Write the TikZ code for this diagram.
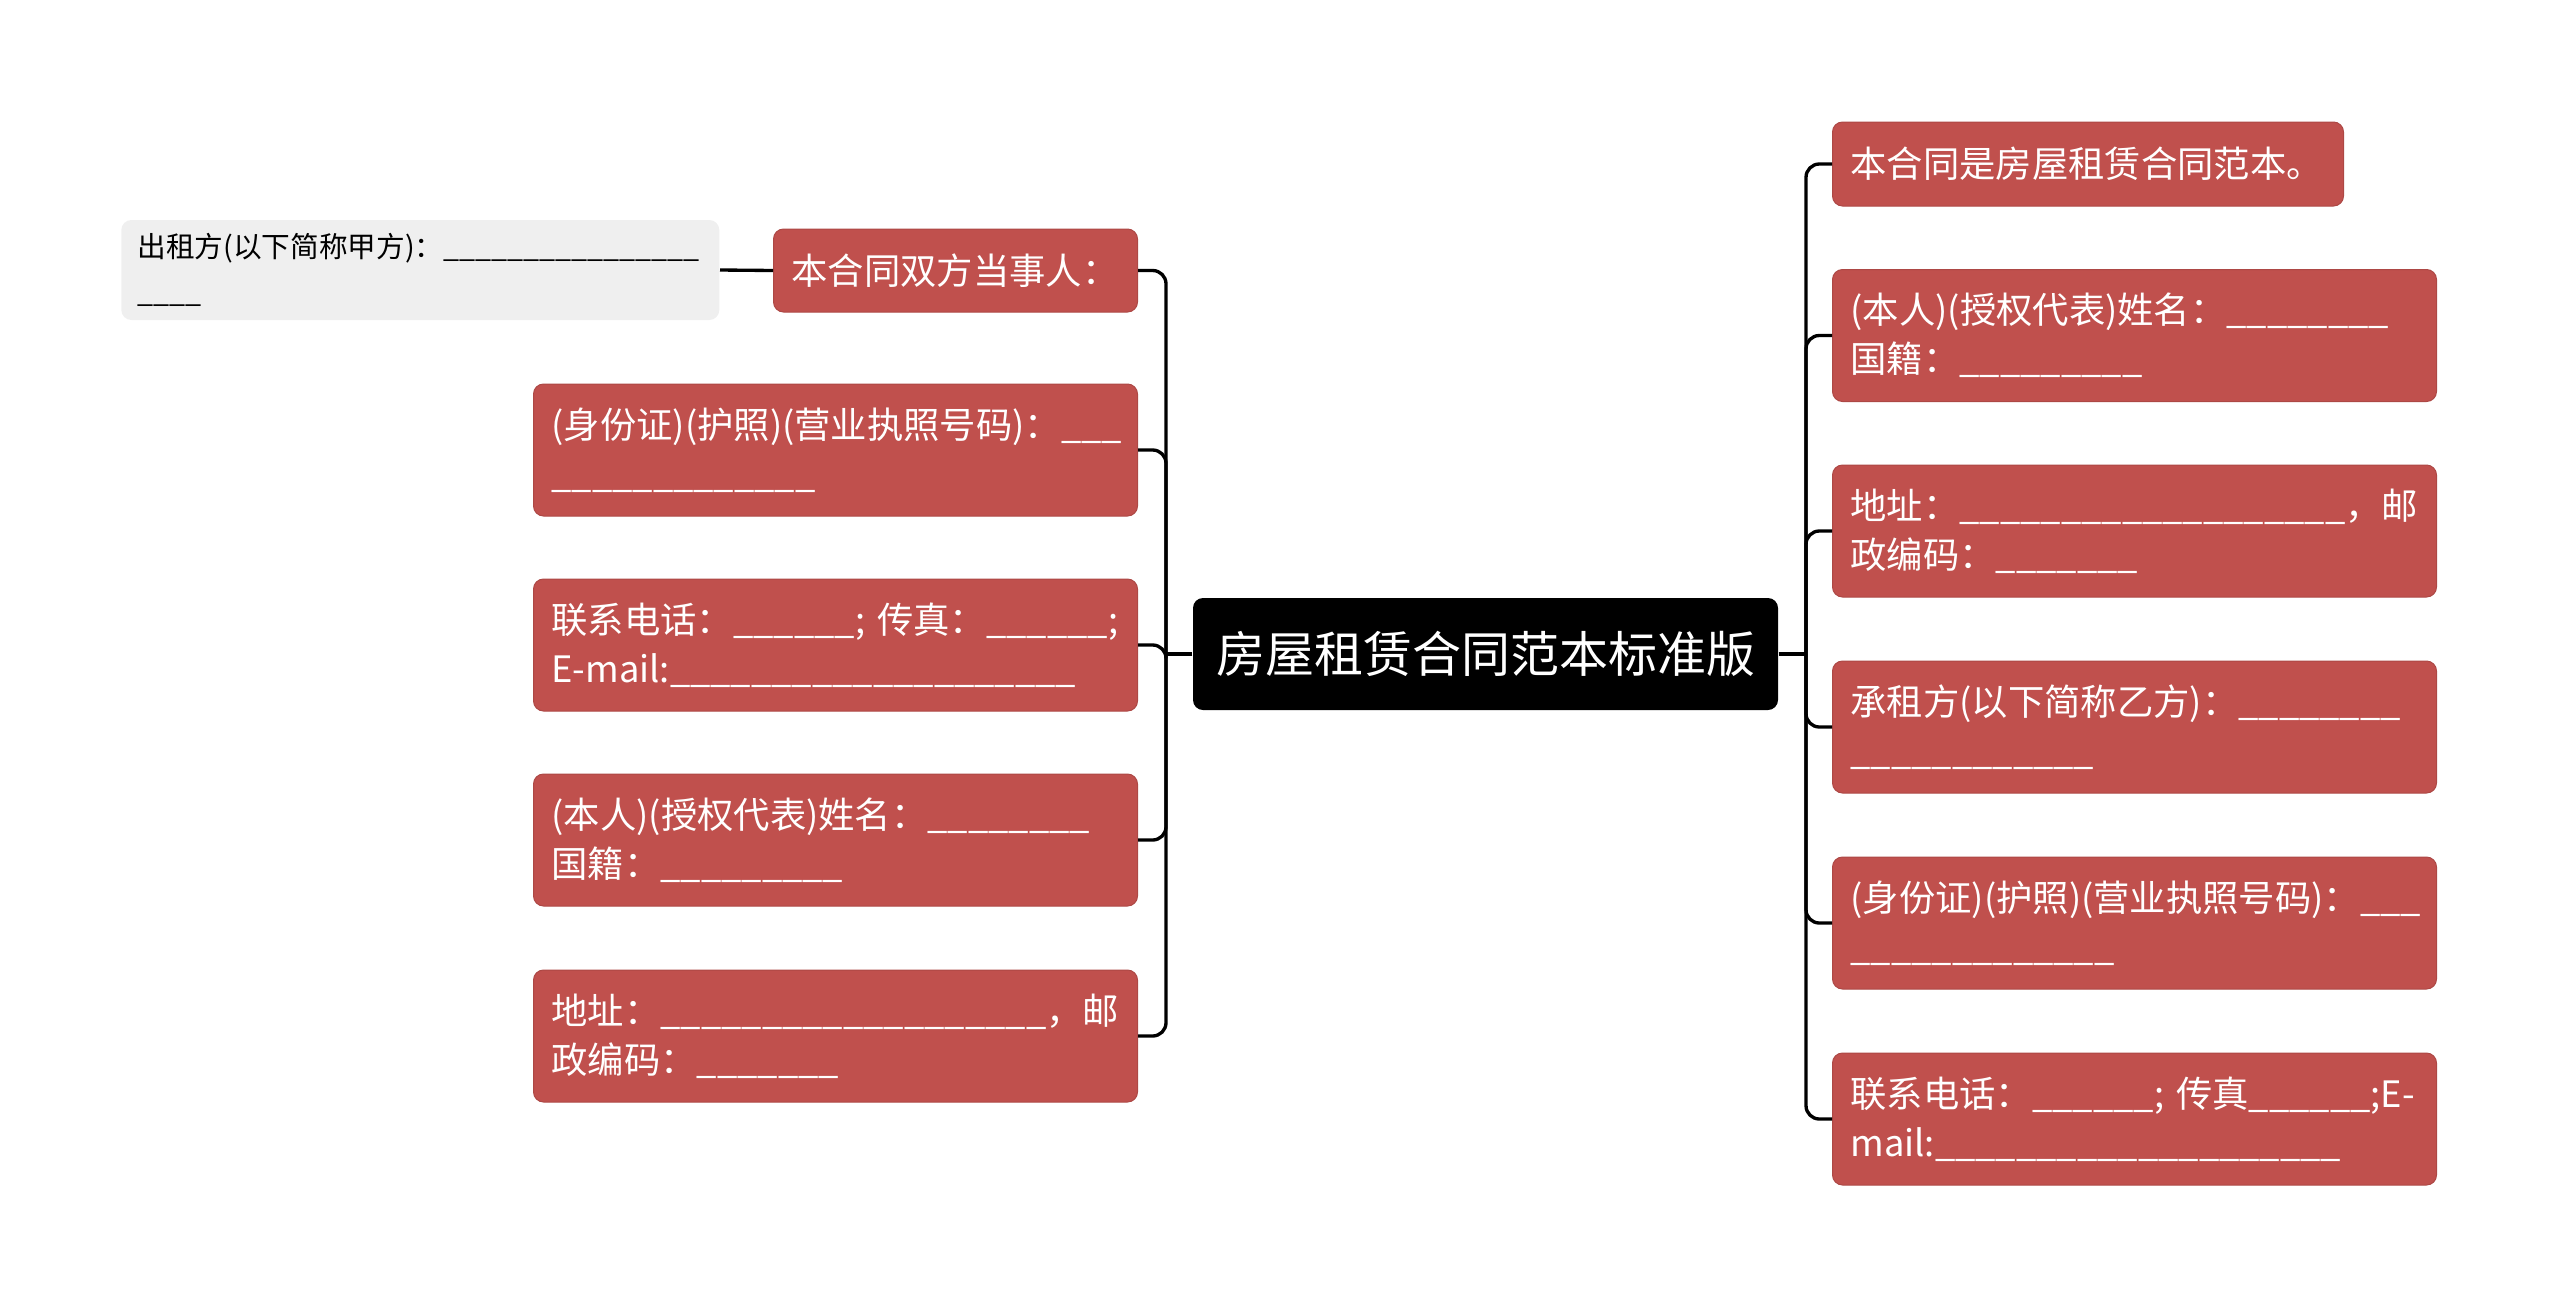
\documentclass[tikz,border=0pt]{standalone}
\usepackage{fontspec}
\setmainfont{Noto Sans CJK SC}
\definecolor{leafred}{HTML}{C0504D}
\definecolor{notegray}{HTML}{EFEFEF}
\tikzset{
  rootbox/.style={fill=black,text=white,rounded corners=3pt,minimum width=175.5pt,minimum height=33.6pt,
    font=\fontsize{14.7}{17}\selectfont,inner sep=0pt},
  leafbox/.style={fill=leafred,draw=leafred!90!black,line width=.3pt,text=white,rounded corners=3pt,align=left,
    inner xsep=5.4pt,inner ysep=0pt,font=\fontsize{10.9}{14.7}\selectfont},
  notebox/.style={fill=notegray,rounded corners=3pt,align=left,inner xsep=4.8pt,inner ysep=0pt,
    font=\fontsize{8.6}{13.7}\selectfont,text width=169.8pt,minimum height=30pt},
  link/.style={line width=1pt,rounded corners=4pt}
}
\newcommand{\blank}[1]{\foreach \k in {1,...,#1}{\_}}
\begin{document}
\begin{tikzpicture}[x=.3pt,y=-.3pt]
\useasboundingbox (0,0) rectangle (2560,1307);
% centre
\node[rootbox] (root) at (1485.5,654) {房屋租赁合同范本标准版};
\coordinate (lj) at (1166,654);
\coordinate (rj) at (1806,654);
% left side
\node[leafbox,anchor=east,text width=98.4pt,minimum height=24.9pt] (l1) at (1138,270.5) {本合同双方当事人：};
\node[notebox,anchor=east] (n1) at (720,270) {出租方(以下简称甲方)：\blank{16}\\\blank{4}};
\node[leafbox,anchor=east,text width=170.4pt,minimum height=39.6pt] (l2) at (1138,450) {(身份证)(护照)(营业执照号码)：\blank{3}\\\blank{13}};
\node[leafbox,anchor=east,text width=170.4pt,minimum height=39.6pt] (l3) at (1138,645) {联系电话：\blank{6};~传真：\blank{6};\\E-mail:\blank{20}};
\node[leafbox,anchor=east,text width=170.4pt,minimum height=39.6pt] (l4) at (1138,840) {(本人)(授权代表)姓名：\blank{8}\\国籍：\blank{9}};
\node[leafbox,anchor=east,text width=170.4pt,minimum height=39.6pt] (l5) at (1138,1036) {地址：\blank{19}，邮\\政编码：\blank{7}};
% right side
\node[leafbox,anchor=west,text width=142.5pt,minimum height=25.2pt] (r1) at (1832,164) {本合同是房屋租赁合同范本。};
\node[leafbox,anchor=west,text width=170.4pt,minimum height=39.6pt] (r2) at (1832,335.5) {(本人)(授权代表)姓名：\blank{8}\\国籍：\blank{9}};
\node[leafbox,anchor=west,text width=170.4pt,minimum height=39.6pt] (r3) at (1832,531) {地址：\blank{19}，邮\\政编码：\blank{7}};
\node[leafbox,anchor=west,text width=170.4pt,minimum height=39.6pt] (r4) at (1832,727) {承租方(以下简称乙方)：\blank{8}\\\blank{12}};
\node[leafbox,anchor=west,text width=170.4pt,minimum height=39.6pt] (r5) at (1832,923) {(身份证)(护照)(营业执照号码)：\blank{3}\\\blank{13}};
\node[leafbox,anchor=west,text width=170.4pt,minimum height=39.6pt] (r6) at (1832,1119) {联系电话：\blank{6};~传真\blank{6};E-\\mail:\blank{20}};
% connectors
\draw[line width=1pt] (root.west) -- (lj);
\draw[line width=1pt] (root.east) -- (rj);
\foreach \n in {l1,l2,l3,l4,l5}
  \draw[link] (lj) |- (\n.east);
\foreach \n in {r1,r2,r3,r4,r5,r6}
  \draw[link] (rj) |- (\n.west);
\draw[line width=1pt] (l1.west) -- (n1.east);
\end{tikzpicture}
\end{document}
